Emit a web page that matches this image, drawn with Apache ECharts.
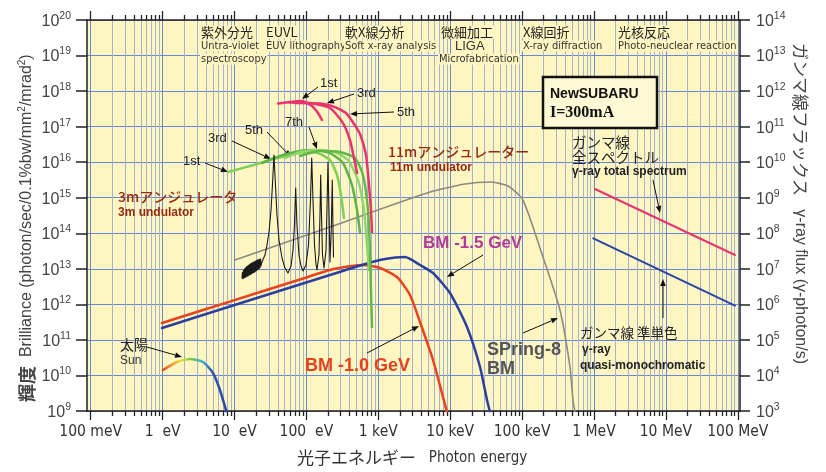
<!DOCTYPE html>
<html><head><meta charset="utf-8">
<script src="https://cdn.jsdelivr.net/npm/echarts@6/dist/echarts.min.js"></script>
<style>html,body{margin:0;padding:0;background:#fff}#c{width:826px;height:472px}</style>
</head><body><div id="c"></div>
<script>
// All values are exponents: logE = log10(photon energy / eV), logB = log10(brilliance), logF = log10(gamma flux)
const xDecades = [-1, 0, 1, 2, 3, 4, 5, 6, 7, 8];
const xTickLabels = ['100 meV', '1  eV', '10  eV', '100  eV', '1 keV', '10 keV', '100 keV', '1 MeV', '10 MeV', '100 MeV'];
const leftExpRange = [9, 20];
const rightExpRange = [3, 14];

const bm10_logE = [-0.008, 0.979, 1.911, 2.328, 2.600, 2.787, 3.024, 3.260, 3.441, 3.580, 3.761, 3.900, 3.955];
const bm10_logB = [11.475, 12.106, 12.699, 12.966, 13.070, 13.107, 13.023, 12.769, 12.263, 11.504, 10.435, 9.394, 8.97];

const bm15_logE = [-0.008, 1.355, 2.328, 2.773, 3.093, 3.371, 3.580, 3.761, 3.997, 4.234, 4.415, 4.512, 4.554];
const bm15_logB = [11.335, 12.207, 12.826, 13.107, 13.276, 13.332, 13.107, 12.882, 12.319, 11.363, 10.238, 9.309, 8.97];

const spring8_logE = [1.007, 2.328, 3.719, 4.206, 4.554, 4.804, 5.012, 5.291, 5.527, 5.666, 5.708, 5.736];
const spring8_logB = [13.247, 14.176, 15.160, 15.385, 15.442, 15.329, 14.935, 13.332, 11.841, 10.238, 9.309, 8.97];

const sun_logE = [0.006, 0.200, 0.381, 0.562, 0.701, 0.798, 0.882, 0.896];
const sun_logB = [10.153, 10.378, 10.463, 10.378, 10.069, 9.591, 9.028, 8.97];

const u3m_1st_logE = [0.910, 1.216, 1.494, 1.772, 1.981, 2.161, 2.328, 2.426, 2.481, 2.523];
const u3m_1st_logB = [15.723, 15.892, 16.060, 16.201, 16.285, 16.257, 16.060, 15.638, 15.076, 14.429];
const u3m_3rd_logE = [1.382, 1.633, 1.911, 2.120, 2.328, 2.509, 2.634, 2.704, 2.745];
const u3m_3rd_logB = [15.976, 16.173, 16.314, 16.342, 16.257, 15.976, 15.357, 14.654, 14.035];
const u3m_5th_logE = [1.702, 1.911, 2.189, 2.398, 2.579, 2.718, 2.801, 2.843, 2.871];
const u3m_5th_logB = [16.117, 16.285, 16.342, 16.285, 16.060, 15.498, 14.654, 13.669, 12.966];
const u3m_7th_logE = [1.911, 2.189, 2.467, 2.676, 2.787, 2.857, 2.884, 2.898, 2.912];
const u3m_7th_logB = [16.173, 16.314, 16.285, 16.117, 15.638, 14.654, 13.529, 12.404, 11.363];

const u11m_1st_logE = [1.605, 1.772, 1.939, 2.078, 2.161, 2.217];
const u11m_1st_logB = [17.650, 17.692, 17.720, 17.579, 17.382, 17.186];
const u11m_3rd_logE = [1.772, 2.050, 2.328, 2.509, 2.606, 2.662, 2.704];
const u11m_3rd_logB = [17.678, 17.664, 17.523, 17.101, 16.623, 16.117, 15.695];
const u11m_5th_logE = [1.841, 2.189, 2.398, 2.565, 2.745, 2.829, 2.871, 2.898, 2.912];
const u11m_5th_logB = [17.664, 17.650, 17.551, 17.354, 16.792, 16.201, 15.357, 14.654, 14.035];

// measured 3m-undulator spectrum (black)
const spec_logE = [1.104, 1.111, 1.118, 1.125, 1.132, 1.139, 1.146, 1.153, 1.160, 1.167, 1.174, 1.181, 1.188, 1.195, 1.202, 1.209, 1.215, 1.222, 1.229, 1.236, 1.243, 1.250, 1.257, 1.264, 1.271, 1.278, 1.285, 1.292, 1.299, 1.306, 1.313, 1.320, 1.327, 1.334, 1.341, 1.348, 1.355, 1.362, 1.369, 1.383, 1.396, 1.424, 1.452, 1.480, 1.508, 1.528, 1.549, 1.570, 1.591, 1.619, 1.661, 1.702, 1.744, 1.786, 1.814, 1.834, 1.851, 1.869, 1.897, 1.925, 1.953, 1.994, 2.029, 2.057, 2.074, 2.092, 2.113, 2.133, 2.147, 2.175, 2.189, 2.199, 2.210, 2.224, 2.245, 2.273, 2.286, 2.300, 2.314, 2.325, 2.328, 2.346, 2.360, 2.370, 2.377];
const spec_logB = [12.740, 12.900, 12.720, 12.960, 12.740, 13.000, 12.760, 13.030, 12.770, 13.060, 12.790, 13.080, 12.800, 13.100, 12.820, 13.120, 12.840, 13.140, 12.850, 13.160, 12.870, 13.170, 12.890, 13.190, 12.900, 13.200, 12.920, 13.220, 12.940, 13.230, 12.960, 13.250, 12.980, 13.260, 13.000, 13.270, 13.030, 13.280, 13.080, 13.200, 13.240, 13.388, 13.669, 14.035, 14.654, 15.357, 16.201, 15.357, 14.513, 13.810, 13.304, 13.022, 12.882, 13.079, 13.529, 14.232, 15.273, 14.232, 13.388, 13.079, 12.938, 13.107, 13.669, 14.935, 16.117, 14.935, 13.669, 13.135, 12.966, 13.388, 14.513, 15.638, 14.513, 13.388, 13.022, 13.529, 14.654, 16.004, 14.654, 13.529, 13.191, 14.091, 15.498, 14.091, 13.332];

// gamma rays (right axis)
const gammaTotal_logE = [6.014, 7.961];
const gammaTotal_logF = [9.245, 7.388];
const gammaMono_logE = [5.990, 7.961];
const gammaMono_logF = [7.858, 5.965];

const X_MIN = -1.0515, X_MAX = 8.031;
const minorVals = [];
xDecades.slice(0, -1).forEach(n => { for (let k = 2; k <= 9; k++) minorVals.push(n + Math.log10(k)); });

const NARROW = "'Liberation Sans Narrow','DejaVu Sans Condensed','Liberation Sans',sans-serif";
const SANS = "'Liberation Sans',Arial,sans-serif";
const JP = "'Noto Sans CJK JP','Noto Sans CJK SC',sans-serif";

function pairs(a, b) { return a.map((v, i) => [v, b[i]]); }
function line(data, color, width, extra) {
  return Object.assign({
    type: 'line', data: data, symbol: 'none', showSymbol: false, silent: true,
    smooth: 0.2, xAxisIndex: 0, yAxisIndex: 0,
    lineStyle: { color: color, width: width, cap: 'round', join: 'round' }
  }, extra || {});
}

const chart = echarts.init(document.getElementById('c'), null, { renderer: 'canvas' });

function xAxisDef(pos, vals, len, showLine, label, split) {
  return {
    type: 'value', position: pos, min: X_MIN, max: X_MAX, gridIndex: 0,
    axisLine: { show: showLine, onZero: false, lineStyle: { color: '#222', width: 1.5 } },
    axisTick: { show: true, customValues: vals, length: len, inside: false, lineStyle: { color: '#222', width: 1.3 } },
    axisLabel: label ? {
      show: true, customValues: vals, margin: 13, fontSize: 15.5, fontFamily: NARROW, color: '#333',
      formatter: v => xTickLabels[Math.round(v) + 1]
    } : { show: false },
    splitLine: split ? { show: true, lineStyle: split } : { show: false }
  };
}

const supRich = {
  b: { fontSize: 16, fontFamily: SANS, color: '#444', verticalAlign: 'bottom', lineHeight: 19 },
  s: { fontSize: 10.5, fontFamily: SANS, color: '#444', verticalAlign: 'bottom', padding: [0, 0, 8, 0], lineHeight: 19 }
};

const g = [];
function txt(x, y, text, font, color, extra) {
  g.push(Object.assign({
    type: 'text', x: x, y: y, z: 1,
    style: Object.assign({ text: text, font: font, fill: color || '#222', textAlign: 'left', textVerticalAlign: 'middle' }, extra || {})
  }));
}
function arrow(x1, y1, x2, y2) {
  const a = Math.atan2(y2 - y1, x2 - x1), L = 7, W = 2.8;
  const bx = x2 - L * Math.cos(a), by = y2 - L * Math.sin(a);
  g.push({ type: 'line', z: 1, shape: { x1: x1, y1: y1, x2: bx, y2: by }, style: { stroke: '#111', lineWidth: 1 } });
  g.push({ type: 'polygon', z: 1, shape: { points: [[x2, y2], [bx - W * Math.sin(a), by + W * Math.cos(a)], [bx + W * Math.sin(a), by - W * Math.cos(a)]] }, style: { fill: '#111' } });
}
const BG = '#fff6c2';
const top1 = '13px ' + JP, top2 = '11px ' + NARROW;
const bgStyle = { backgroundColor: BG, padding: [0, 1] };
txt(200, 32, '紫外分光', top1, '#222', bgStyle);
txt(200, 46, 'Untra-violet', top2, '#333', bgStyle);
txt(200, 59, 'spectroscopy', top2, '#333', bgStyle);
txt(265, 32, 'EUVL', top1, '#222', bgStyle);
txt(265, 46, 'EUV lithography', top2, '#333', bgStyle);
txt(344, 32, '軟X線分析', top1, '#222', bgStyle);
txt(344, 46, 'Soft x-ray analysis', top2, '#333', bgStyle);
txt(440, 32, '微細加工', top1, '#222', bgStyle);
txt(454, 46, 'LIGA', '13px ' + SANS, '#333', bgStyle);
txt(438, 59, 'Microfabrication', top2, '#333', bgStyle);
txt(522, 32, 'X線回折', top1, '#222', bgStyle);
txt(522, 46, 'X-ray diffraction', top2, '#333', bgStyle);
txt(617, 32, '光核反応', top1, '#222', bgStyle);
txt(617, 46, 'Photo-neuclear reaction', top2, '#333', bgStyle);

const brown = '#972a0e';
txt(388, 152, '11mアンジュレーター', '500 14px ' + JP, brown);
txt(390, 168, '11m undulator', 'bold 12px ' + SANS, brown);
txt(118, 197, '3mアンジュレータ', '500 14px ' + JP, brown);
txt(118, 213, '3m undulator', 'bold 12px ' + SANS, brown);
txt(423, 243, 'BM -1.5 GeV', 'bold 17px ' + SANS, '#b0399c');
txt(305, 366, 'BM -1.0 GeV', 'bold 18px ' + SANS, '#e8401c');
txt(487, 350, 'SPring-8', 'bold 18px ' + SANS, '#555');
txt(487, 369, 'BM', 'bold 18px ' + SANS, '#555');
txt(580, 333, 'ガンマ線 準単色', '13.5px ' + JP, '#222');
txt(582, 350, 'γ-ray', 'bold 12px ' + SANS, '#222');
txt(580, 366, 'quasi-monochromatic', 'bold 12px ' + SANS, '#222');
txt(572, 142, 'ガンマ線', '14.5px ' + JP, '#222');
txt(572, 157, '全スペクトル', '14.5px ' + JP, '#222');
txt(572, 172, 'γ-ray total spectrum', 'bold 12px ' + SANS, '#222');
txt(120, 345, '太陽', '14px ' + JP, '#222');
txt(120, 361, 'Sun', '12px ' + SANS, '#333');
// harmonic labels
const hf = '13px ' + SANS;
txt(183, 161, '1st', hf); txt(208, 138, '3rd', hf); txt(245, 130, '5th', hf); txt(285, 122, '7th', hf);
txt(320, 83, '1st', hf); txt(357, 93, '3rd', hf); txt(397, 112, '5th', hf);
arrow(205, 163, 228, 172); arrow(232, 141, 271, 159); arrow(267, 132, 291, 157); arrow(309, 127, 317, 149);
arrow(318, 87, 302, 99); arrow(354, 94, 327, 103); arrow(394, 112, 350, 114);
arrow(147, 347, 182, 357); arrow(367, 353, 419, 326); arrow(483, 255, 447, 277);
arrow(523, 333, 558, 318); arrow(653, 180, 660, 213); arrow(663, 318, 663, 279);
// NewSUBARU box
g.push({ type: 'rect', z: 1, shape: { x: 543, y: 77, width: 114, height: 51 }, style: { fill: '#fff8d4', stroke: '#111', lineWidth: 2.5 } });
txt(550, 94, 'NewSUBARU', 'bold 14px ' + SANS, '#111', { });
txt(550, 113, 'I=300mA', 'bold 16px ' + "'Liberation Serif',serif", '#111');
g[g.length - 1].z = 2; g[g.length - 2].z = 2;
// axis titles
g.push({ type: 'text', x: 27, y: 402, rotation: Math.PI / 2, z: 1, style: {
  text: '{j|輝度}  Brilliance (photon/sec/0.1%bw/mm{s|2}/mrad{s|2})', fill: '#444',
  font: '16px ' + SANS, textAlign: 'left', textVerticalAlign: 'middle',
  rich: { j: { fontSize: 18, fontWeight: 'bold', fontFamily: JP, fill: '#444', lineHeight: 20 },
          s: { fontSize: 10, fontFamily: SANS, fill: '#444', padding: [0, 0, 9, 0] } } } });
g.push({ type: 'text', x: 800, y: 43, rotation: -Math.PI / 2, z: 1, style: {
  text: '{j|ガンマ線フラックス}   γ-ray flux (γ-photon/s)', fill: '#444',
  font: '16px ' + SANS, textAlign: 'left', textVerticalAlign: 'middle',
  rich: { j: { fontSize: 17, fontFamily: JP, fill: '#444' } } } });
g.push({ type: 'text', x: 297, y: 458, z: 1, style: {
  text: '{j|光子エネルギー}   Photon energy', fill: '#333',
  font: '15px ' + NARROW, textAlign: 'left', textVerticalAlign: 'middle',
  rich: { j: { fontSize: 17, fontFamily: JP, fill: '#333' } } } });

const sunGrad = new echarts.graphic.LinearGradient(0, 0, 1, 0, [
  { offset: 0, color: '#e8301e' }, { offset: 0.15, color: '#f0902a' }, { offset: 0.3, color: '#e6e040' },
  { offset: 0.45, color: '#6cc84e' }, { offset: 0.6, color: '#3cb4d2' }, { offset: 0.75, color: '#3656b4' }, { offset: 1, color: '#2a3fa0' }
]);

chart.setOption({
  animation: false,
  backgroundColor: '#ffffff',
  grid: { left: 87, top: 20, width: 653, height: 391, show: true, backgroundColor: BG, borderWidth: 0 },
  xAxis: [
    xAxisDef('bottom', minorVals, 5, false, false, { color: '#a3b3d0', width: 1 }),
    xAxisDef('bottom', xDecades, 9, true, true, { color: '#6688d6', width: 1 }),
    xAxisDef('top', minorVals, 5, false, false, null),
    xAxisDef('top', xDecades, 9, true, false, null)
  ],
  yAxis: [
    { type: 'value', position: 'left', min: leftExpRange[0], max: leftExpRange[1], interval: 1,
      axisLine: { show: true, onZero: false, lineStyle: { color: '#222', width: 1.5 } },
      axisTick: { show: true, length: 11, lineStyle: { color: '#222', width: 1.5 } },
      axisLabel: { margin: 16, formatter: v => '{b|10}{s|' + v + '}', rich: supRich },
      splitLine: { show: true, lineStyle: { color: '#6688d6', width: 1 } } },
    { type: 'value', position: 'right', min: rightExpRange[0], max: rightExpRange[1], interval: 1,
      axisLine: { show: true, onZero: false, lineStyle: { color: '#222', width: 1.5 } },
      axisTick: { show: true, length: 10, lineStyle: { color: '#222', width: 1.5 } },
      axisLabel: { margin: 16, formatter: v => '{b|10}{s|' + v + '}', rich: supRich },
      splitLine: { show: false } }
  ],
  graphic: g,
  series: [
    line(pairs(spring8_logE, spring8_logB), '#8d8b7e', 1.6),
    line(pairs(bm10_logE, bm10_logB), '#e8421e', 2.5),
    line(pairs(bm15_logE, bm15_logB), '#2a3f9e', 2.5),
    line(pairs(sun_logE, sun_logB), sunGrad, 2.5),
    line(pairs(u3m_1st_logE, u3m_1st_logB), '#7fd057', 2.5),
    line(pairs(u3m_3rd_logE, u3m_3rd_logB), '#5db545', 2.5),
    line(pairs(u3m_5th_logE, u3m_5th_logB), '#8ed666', 2.5),
    line(pairs(u3m_7th_logE, u3m_7th_logB), '#5fb848', 2.5),
    line(pairs(spec_logE, spec_logB), '#1a1a1a', 1.1, { smooth: false }),
    line(pairs(u11m_1st_logE, u11m_1st_logB), '#e8336e', 2.5),
    line(pairs(u11m_3rd_logE, u11m_3rd_logB), '#e8336e', 2.5),
    line(pairs(u11m_5th_logE, u11m_5th_logB), '#e8336e', 2.5),
    line(pairs(gammaTotal_logE, gammaTotal_logF), '#e8336e', 2, { yAxisIndex: 1, smooth: false }),
    line(pairs(gammaMono_logE, gammaMono_logF), '#2a45a8', 2, { yAxisIndex: 1, smooth: false })
  ]
});
</script></body></html>
